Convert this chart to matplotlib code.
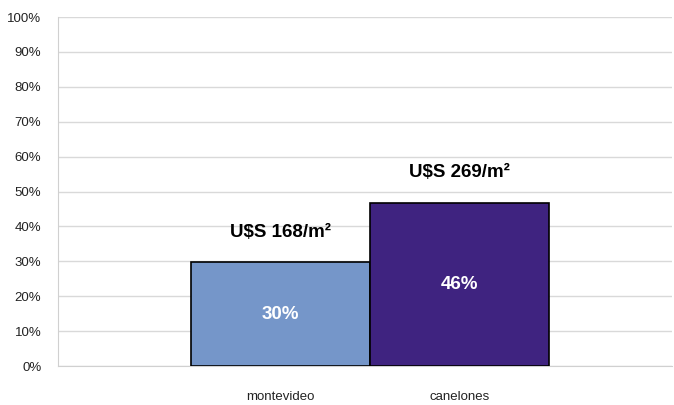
import matplotlib
matplotlib.use("Agg")
from matplotlib import pyplot as plt
from matplotlib.ticker import PercentFormatter

categories = ["montevideo", "canelones"]
shares = [0.297, 0.467]
share_labels = ["30%", "46%"]
price_labels = ["U$S 168/m²", "U$S 269/m²"]
colors = ["#7596c9", "#3f2380"]

plt.rcParams["font.family"] = ["Liberation Sans", "DejaVu Sans"]
plt.rcParams["text.parse_math"] = False

fig = plt.figure(figsize=(6.74, 4.05), dpi=100)
ax = fig.add_axes([0.086, 0.096, 0.911, 0.862])

x = list(range(len(categories)))
bars = ax.bar(x, shares, width=1.0, color=colors, edgecolor="black", linewidth=1.2, zorder=3)

for b, s, pl in zip(bars, share_labels, price_labels):
    cx = b.get_x() + b.get_width() / 2
    h = b.get_height()
    ax.text(cx, h / 2, s, ha="center", va="center", color="white",
            fontsize=13.5, fontweight="bold", zorder=4)
    ax.text(cx, h + 0.087, pl, ha="center", va="center", color="black",
            fontsize=13.5, fontweight="bold", zorder=4)

ax.set_ylim(0, 1)
ax.set_xlim(-1.243, 2.187)
ax.set_yticks([i / 10 for i in range(11)])
ax.yaxis.set_major_formatter(PercentFormatter(1.0, decimals=0))
ax.set_xticks(x)
ax.set_xticklabels(categories)
ax.tick_params(axis="both", length=0, labelsize=9.5, colors="#222222")
ax.tick_params(axis="x", pad=18)
ax.tick_params(axis="y", pad=12)
ax.grid(axis="y", color="#d9d9d9", linewidth=1, zorder=0)

for side in ["top", "right"]:
    ax.spines[side].set_visible(False)
ax.spines["left"].set_color("#d0d0d0")
ax.spines["bottom"].set_color("#d0d0d0")

fig.savefig("out.png", dpi=100)
